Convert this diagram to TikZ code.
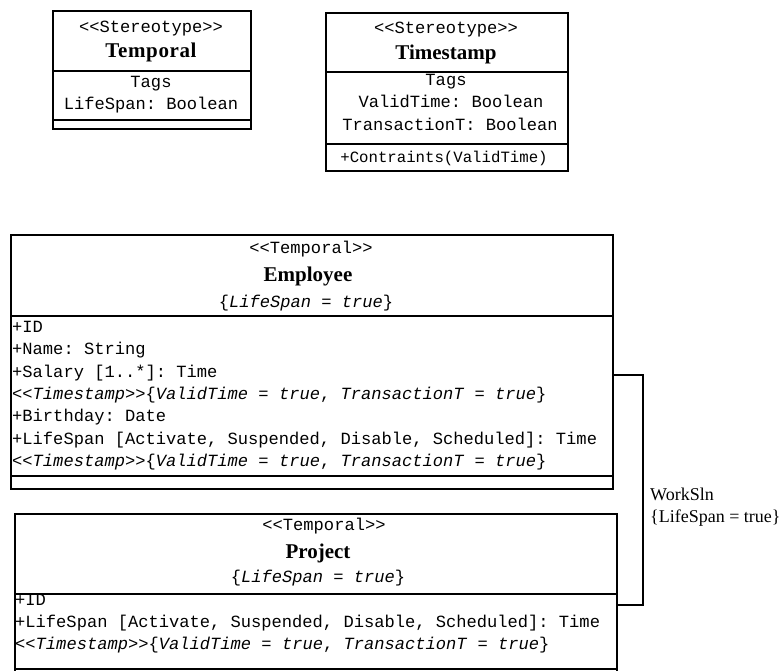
\documentclass[tikz,border=0pt]{standalone}
\usepackage{fontspec}
\setmainfont{Liberation Serif}
\setmonofont{Liberation Mono}
\newcommand{\stereo}[1]{<{}<#1>{}>}
\newcommand{\tagv}[2]{\textit{#1} = \textit{#2}}
\newcommand{\tsline}{\stereo{\textit{Timestamp}}\{\tagv{ValidTime}{true}, \tagv{TransactionT}{true}\}}

\begin{document}
\begin{tikzpicture}[x=1pt,y=-1pt,
    part/.style={draw, line width=1.6pt, anchor=north west, inner sep=0pt},
    mono/.style={font=\fontsize{17.1}{20}\ttfamily, inner sep=0pt},
    title/.style={font=\fontsize{21}{24}\selectfont\bfseries, inner sep=0pt},
    attr/.style={mono, anchor=base west},
    assoc/.style={line width=1.6pt},
    lbl/.style={font=\fontsize{18}{22}\selectfont, inner sep=0pt, anchor=base west}]
    \useasboundingbox (0,0) rectangle (782,671);

    % stereotype Temporal
    \node[part, minimum width=198, minimum height=60] (tmphead) at (52,10) {};
    \node[part, minimum width=198, minimum height=49] (tmptags) at (52,70) {};
    \node[part, minimum width=198, minimum height=9] (tmpops) at (52,119) {};
    \node[mono, anchor=base] (tmpst) at (151,33) {\stereo{Stereotype}};
    \node[title, anchor=base] (tmpname) at (151,58) {\addfontfeature{LetterSpace=3}Temporal};
    \node[mono, anchor=base] (tmptg) at (151,88) {Tags};
    \node[mono, anchor=base] (tmpls) at (151,110) {LifeSpan: Boolean};

    % stereotype Timestamp
    \node[part, minimum width=242, minimum height=59] (tshead) at (325,12) {};
    \node[part, minimum width=242, minimum height=72] (tstags) at (325,71) {};
    \node[part, minimum width=242, minimum height=27] (tsops) at (325,143) {};
    \node[mono, anchor=base] (tsst) at (446,34) {\stereo{Stereotype}};
    \node[title, anchor=base] (tsname) at (446,60) {Timestamp};
    \node[mono, anchor=base] (tstg) at (446,86) {Tags};
    \node[mono, anchor=base] (tsvt) at (451,108) {ValidTime: Boolean};
    \node[mono, anchor=base] (tstt) at (450,131) {TransactionT: Boolean};
    \node[mono, anchor=base, font=\fontsize{15.7}{18}\ttfamily] (tsop) at (444,163) {+Contraints(ValidTime)};

    % class Employee
    \node[part, minimum width=602, minimum height=81] (emphead) at (10,234) {};
    \node[part, minimum width=602, minimum height=160] (empattr) at (10,315) {};
    \node[part, minimum width=602, minimum height=13] (empops) at (10,475) {};
    \node[mono, anchor=base] (empst) at (311,254) {\stereo{Temporal}};
    \node[title, anchor=base] (empname) at (308,282) {Employee};
    \node[mono, anchor=base] (empls) at (306,307) {\{\tagv{LifeSpan}{true}\}};
    \node[attr] (ea1) at (12,332) {+ID};
    \node[attr] (ea2) at (12,354.5) {+Name: String};
    \node[attr] (ea3) at (12,377) {+Salary [1..*]: Time};
    \node[attr] (ea4) at (12,399) {\tsline};
    \node[attr] (ea5) at (12,421.5) {+Birthday: Date};
    \node[attr] (ea6) at (12,444) {+LifeSpan [Activate, Suspended, Disable, Scheduled]: Time};
    \node[attr] (ea7) at (12,466) {\tsline};

    % class Project
    \node[part, minimum width=602, minimum height=80] (prjhead) at (14,513) {};
    \node[part, minimum width=602, minimum height=75] (prjattr) at (14,593) {};
    \node[part, minimum width=602, minimum height=30] (prjops) at (14,668) {};
    \node[mono, anchor=base] (prjst) at (324,530) {\stereo{Temporal}};
    \node[title, anchor=base] (prjname) at (318,558) {Project};
    \node[mono, anchor=base] (prjls) at (318,582) {\{\tagv{LifeSpan}{true}\}};
    \node[attr] (pa1) at (15,605) {+ID};
    \node[attr] (pa2) at (15,627) {+LifeSpan [Activate, Suspended, Disable, Scheduled]: Time};
    \node[attr] (pa3) at (15,649) {\tsline};

    % association WorkSln
    \coordinate (bend1) at (643,375);
    \coordinate (bend2) at (643,605);
    \draw[assoc] (empattr.east |- bend1) -- (bend1) -- (bend2) -- (prjattr.east |- bend2);
    \node[lbl] (wname) at (650,500) {WorkSln};
    \node[lbl] (wcons) at (650,522) {\{LifeSpan = true\}};
\end{tikzpicture}
\end{document}
